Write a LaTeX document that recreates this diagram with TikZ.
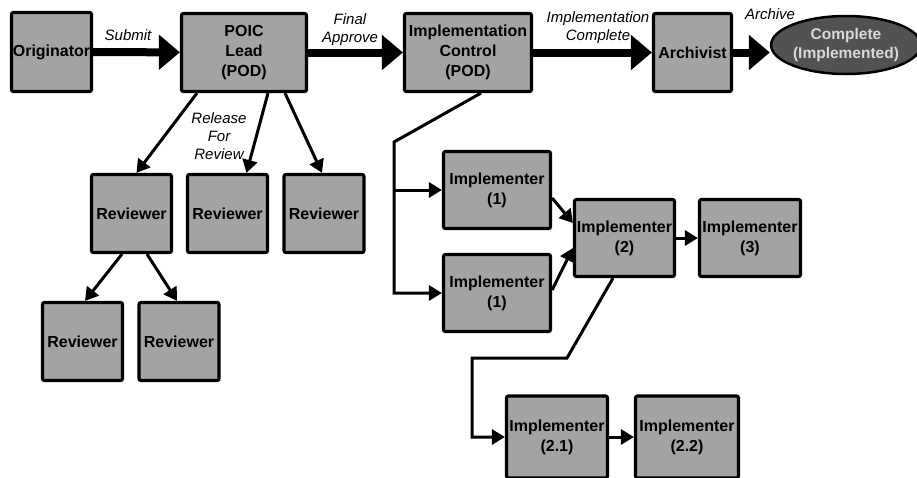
\documentclass[tikz,border=0pt]{standalone}
\usepackage{fontspec}
\setmainfont{Liberation Sans}
\usetikzlibrary{arrows.meta,shapes.geometric}
\begin{document}
\begin{tikzpicture}[x=1pt,y=-1pt,
  box/.style={draw=black, line width=3.2pt, rounded corners=2pt, fill=black!36,
    inner sep=1pt, align=center, font=\fontsize{16}{20}\selectfont\bfseries},
  endst/.style={ellipse, draw=black, line width=2.5pt, fill=black!68, text=white!85!black,
    inner sep=0pt, align=center, font=\fontsize{15.5}{19}\selectfont\bfseries},
  lbl/.style={align=center, inner sep=0pt, font=\fontsize{15}{18}\selectfont\itshape},
  bigarrow/.style={line width=8pt, -{Triangle[length=21pt,width=34pt]}},
  thinarrow/.style={line width=3pt, line join=miter, -{Triangle[length=13pt,width=15pt]}},
  thinline/.style={line width=3pt, line join=miter}
]
\useasboundingbox (0,0) rectangle (917,477);

% top row
\node[box, minimum width=80pt, minimum height=79pt] (orig) at (51.5,52) {Originator};
\node[box, minimum width=125pt, minimum height=78pt] (poic) at (244,52.5) {POIC\\Lead\\(POD)};
\node[box, minimum width=127pt, minimum height=78pt] (ictl) at (468,52.5) {Implementation\\Control\\(POD)};
\node[box, minimum width=78pt, minimum height=78pt] (arch) at (692.5,52.5) {Archivist};
\node[endst, minimum width=132pt, minimum height=58pt] (done) at (846,45) {Complete\\(Implemented)};

% reviewers
\node[box, minimum width=80pt, minimum height=78pt] (rev1) at (131.5,213.5) {Reviewer};
\node[box, minimum width=80pt, minimum height=78pt] (rev2) at (227.5,213.5) {Reviewer};
\node[box, minimum width=80pt, minimum height=78pt] (rev3) at (324,213.5) {Reviewer};
\node[box, minimum width=80pt, minimum height=78pt] (rev4) at (82.5,341.5) {Reviewer};
\node[box, minimum width=80pt, minimum height=78pt] (rev5) at (179,341.5) {Reviewer};

% implementers
\node[box, minimum width=107pt, minimum height=77pt] (imp1a) at (497,190) {Implementer\\(1)};
\node[box, minimum width=107pt, minimum height=77pt] (imp1b) at (497,293) {Implementer\\(1)};
\node[box, minimum width=100pt, minimum height=77pt] (imp2) at (624.5,238) {Implementer\\(2)};
\node[box, minimum width=101pt, minimum height=77pt] (imp3) at (750,238) {Implementer\\(3)};
\node[box, minimum width=101pt, minimum height=82pt] (imp21) at (557,437) {Implementer\\(2.1)};
\node[box, minimum width=103pt, minimum height=82pt] (imp22) at (687,437) {Implementer\\(2.2)};

% main flow
\draw[bigarrow] (orig) -- (poic);
\draw[bigarrow] (poic) -- (ictl);
\draw[bigarrow] (ictl) -- (arch);
\draw[bigarrow] (arch.east) -- (arch.east -| done.west);

\node[lbl] (lsub) at (128,35) {Submit};
\node[lbl] (lfin) at (350,30) {Final\\Approve};
\node[lbl] (limp) at (598,28) {Implementation\\Complete};
\node[lbl] (larc) at (770,14) {Archive};
\node[lbl] (lrel) at (219,136) {Release\\For\\Review};

% review branches
\draw[thinarrow] ([xshift=-47pt]poic.south) -- ([xshift=5pt]rev1.north);
\draw[thinarrow] ([xshift=24pt]poic.south) -- ([xshift=19pt]rev2.north);
\draw[thinarrow] ([xshift=41pt]poic.south) -- ([xshift=-2pt]rev3.north);
\draw[thinarrow] ([xshift=-9.5pt]rev1.south) -- ([xshift=2.5pt]rev4.north);
\draw[thinarrow] ([xshift=15.5pt]rev1.south) -- ([xshift=-2pt]rev5.north);

% implementation branches
\coordinate (j1) at (394,142);
\draw[thinarrow] ([xshift=13pt]ictl.south) -- (j1) -- (j1 |- imp1b.west) -- (imp1b.west);
\draw[thinarrow] (j1 |- imp1a.west) -- (imp1a.west);
\draw[thinarrow] ([yshift=-8pt]imp1a.east) -- ([yshift=15pt]imp2.west);
\draw[thinarrow] ([yshift=3pt]imp1b.east) -- ([yshift=-10pt]imp2.west);
\draw[thinarrow] (imp2) -- (imp3);
\coordinate (k1) at (567,358);
\coordinate (k2) at (472,358);
\draw[thinarrow] ([xshift=-11.5pt]imp2.south) -- (k1) -- (k2) -- (k2 |- imp21.west) -- (imp21.west);
\draw[thinarrow] (imp21) -- (imp22);
\end{tikzpicture}
\end{document}
